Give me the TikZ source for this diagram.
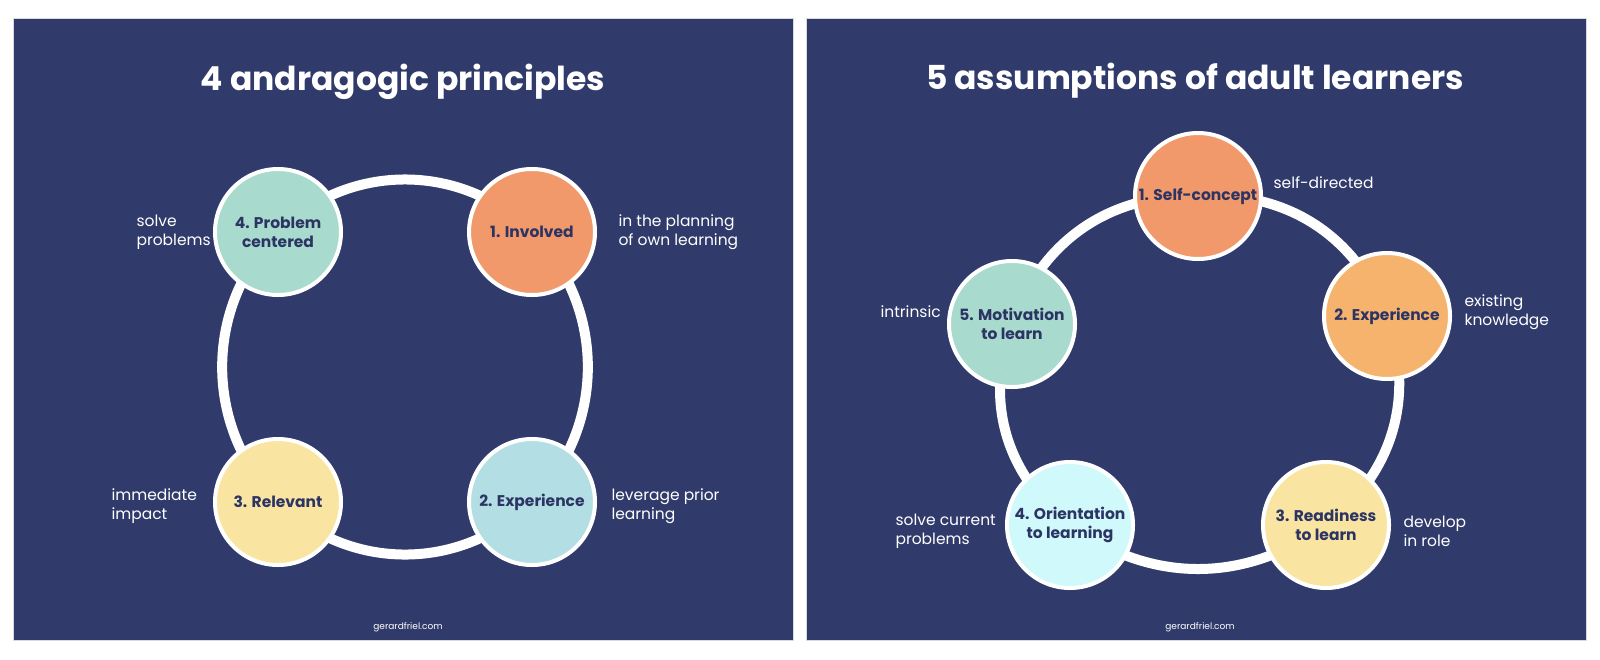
\documentclass[tikz,border=0pt]{standalone}
\usepackage{fontspec}
\setmainfont{Poppins}
\usetikzlibrary{backgrounds}

\definecolor{navy}{HTML}{303B6B}
\definecolor{inknavy}{HTML}{2C3463}
\definecolor{coral}{HTML}{F2996C}
\definecolor{apricot}{HTML}{F6B36D}
\definecolor{mint}{HTML}{A8DACE}
\definecolor{powder}{HTML}{B3DFE4}
\definecolor{butter}{HTML}{F9E4A2}
\definecolor{icecyan}{HTML}{CFF9FB}

\begin{document}
\begin{tikzpicture}[x=1pt,y=-1pt,
    panel/.style={fill=navy, draw=gray!30, line width=1},
    bubble/.style={circle, draw=white, line width=4, minimum size=126, inner sep=0,
        align=center, text=inknavy, font=\fontsize{15.5}{19}\selectfont\bfseries},
    ring/.style={draw=white, line width=10},
    note/.style={anchor=west, align=left, text=white, font=\fontsize{15.5}{19}\selectfont},
    heading/.style={anchor=base, text=white, font=\fontsize{33}{38}\selectfont\bfseries},
    credit/.style={text=white, font=\fontsize{9}{11}\selectfont}]
    \useasboundingbox (0,0) rectangle (1600,659);

    % left slide
    \node[heading] (lt) at (403,90) {4 andragogic principles};
    \node[bubble, fill=coral] (inv) at (532,232) {1. Involved};
    \node[bubble, fill=powder] (lexp) at (532,502) {2. Experience};
    \node[bubble, fill=butter] (rel) at (278,502) {3. Relevant};
    \node[bubble, fill=mint] (prob) at (278,232) {4. Problem\\centered};

    \node[note] (ninv) at (615,232) {in the planning\\of own learning};
    \node[note] (nlexp) at (608,506) {leverage prior\\learning};
    \node[note] (nrel) at (108,506) {immediate\\impact};
    \node[note] (nprob) at (133,232) {solve\\problems};
    \node[credit] (lc) at (408,627) {gerardfriel.com};

    % right slide
    \node[heading] (rt) at (1195,89) {5 assumptions of adult learners};
    \node[bubble, fill=coral] (self) at (1198,196) {1. Self-concept};
    \node[bubble, fill=apricot] (rexp) at (1387,316) {2. Experience};
    \node[bubble, fill=butter] (ready) at (1326,525) {3. Readiness\\to learn};
    \node[bubble, fill=icecyan] (orient) at (1070,525) {4. Orientation\\to learning};
    \node[bubble, fill=mint] (motiv) at (1012,324) {5. Motivation\\to learn};

    \node[note] (nself) at (1270,183) {self-directed};
    \node[note] (nrexp) at (1461,312) {existing\\knowledge};
    \node[note] (nready) at (1400,531) {develop\\in role};
    \node[note] (norient) at (892,531) {solve current\\problems};
    \node[note] (nmotiv) at (877,312) {intrinsic};
    \node[credit] (rc) at (1200,627) {gerardfriel.com};

    \begin{scope}[on background layer]
        \draw[panel] (13,18) rectangle (793,640);
        \draw[panel] (806,18) rectangle (1586,640);
        \draw[ring] (inv.center) to[bend left=45] (lexp.center)
            to[bend left=45] (rel.center) to[bend left=45] (prob.center)
            to[bend left=45] (inv.center);
        \draw[ring] (self.center) to[bend left=36] (rexp.center)
            to[bend left=36] (ready.center) to[bend left=36] (orient.center)
            to[bend left=36] (motiv.center) to[bend left=36] (self.center);
    \end{scope}
\end{tikzpicture}
\end{document}
